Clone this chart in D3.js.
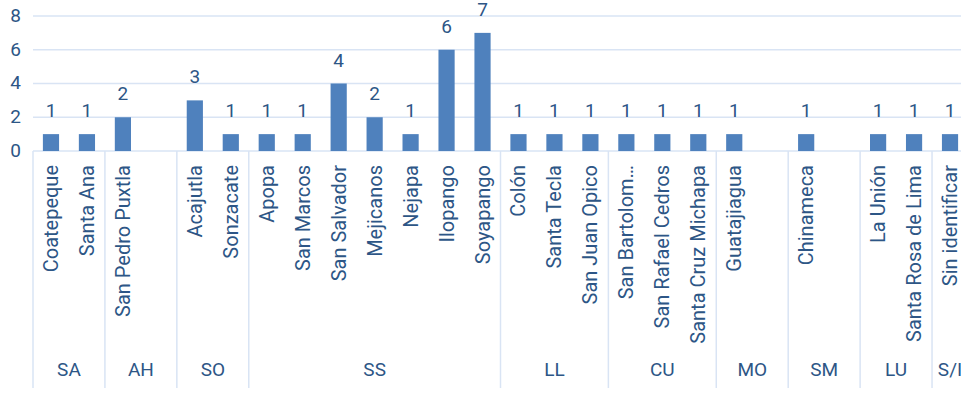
<!DOCTYPE html>
<html><head><meta charset="utf-8">
<script src="https://cdn.jsdelivr.net/npm/d3@7"></script>
<style>html,body{margin:0;padding:0;background:#fff;overflow:hidden}svg{display:block}</style>
</head><body>
<script>
const categories = ["Coatepeque","Santa Ana","San Pedro Puxtla","","Acajutla","Sonzacate","Apopa","San Marcos","San Salvador","Mejicanos","Nejapa","Ilopango","Soyapango","Colón","Santa Tecla","San Juan Opico","San Bartolom…","San Rafael Cedros","Santa Cruz Michapa","Guatajiagua","","Chinameca","","La Unión","Santa Rosa de Lima","Sin identificar"];
const groupOf = ["SA","SA","AH","AH","SO","SO","SS","SS","SS","SS","SS","SS","SS","LL","LL","LL","CU","CU","CU","MO","MO","SM","SM","LU","LU","S/I"];
const values = [1,1,2,null,3,1,1,1,4,2,1,6,7,1,1,1,1,1,1,1,null,1,null,1,1,1];
const groups = ["SA","AH","SO","SS","LL","CU","MO","SM","LU","S/I"];
const yTicks = [0,2,4,6,8];

const W = 961, H = 400;
const left = 33, right = 968, y0 = 151, yTop = 16, yBottom = 388;
const textColor = "#2d5686", gridColor = "#d9e4f4", barColor = "#4f81bd";
const font = "Roboto, 'Noto Sans', sans-serif";

const svg = d3.select("body").append("svg").attr("width", W).attr("height", H);
const idx = d3.range(categories.length);
const x = d3.scaleBand().domain(idx).range([left, right]).paddingInner(0).paddingOuter(0);
const y = d3.scaleLinear().domain([0, 8]).range([y0, yTop]);

// gridlines
svg.append("g").selectAll("line").data(yTicks.filter(d => d > 0)).join("line")
  .attr("x1", left).attr("x2", W).attr("y1", d => y(d)).attr("y2", d => y(d))
  .attr("stroke", gridColor).attr("stroke-width", 1.5);

// y axis labels
const yAxis = d3.axisLeft(y).tickValues(yTicks).tickSize(0).tickPadding(0);
const ya = svg.append("g").attr("transform", `translate(21,0)`).call(yAxis);
ya.select(".domain").remove();
ya.selectAll("text").attr("font-family", font).attr("font-size", 19).attr("fill", textColor).attr("dy", "0.28em");

// x axis line
svg.append("line").attr("x1", left).attr("x2", W).attr("y1", y0).attr("y2", y0)
  .attr("stroke", gridColor).attr("stroke-width", 1.5);

// group boundaries
const groupSpans = groups.map(g => {
  const ii = idx.filter(i => groupOf[i] === g);
  return {g, x0: x(ii[0]), x1: x(ii[ii.length - 1]) + x.bandwidth()};
});
const bounds = [left].concat(groupSpans.map(s => s.x1));
svg.append("g").selectAll("line").data(bounds).join("line")
  .attr("x1", d => d).attr("x2", d => d).attr("y1", y0).attr("y2", yBottom)
  .attr("stroke", gridColor).attr("stroke-width", 1.5);

// bars
const bw = x.bandwidth() * 0.45;
const withVal = idx.filter(i => values[i] != null);
svg.append("g").selectAll("rect").data(withVal).join("rect")
  .attr("x", i => x(i) + x.bandwidth() / 2 - bw / 2)
  .attr("y", i => y(values[i]))
  .attr("width", bw)
  .attr("height", i => y(0) - y(values[i]))
  .attr("fill", barColor);

// data labels
svg.append("g").selectAll("text").data(withVal).join("text")
  .attr("x", i => x(i) + x.bandwidth() / 2)
  .attr("y", i => y(values[i]) - 17)
  .attr("text-anchor", "middle")
  .attr("font-family", font).attr("font-size", 19).attr("fill", textColor)
  .text(i => values[i]);

// category labels
svg.append("g").selectAll("text").data(idx.filter(i => categories[i] !== "")).join("text")
  .attr("transform", i => `translate(${x(i) + x.bandwidth() / 2},165) rotate(-90)`)
  .attr("text-anchor", "end").attr("dy", "0.35em")
  .attr("font-family", font).attr("font-size", 20).attr("fill", textColor)
  .text(i => categories[i]);

// group labels
svg.append("g").selectAll("text").data(groupSpans).join("text")
  .attr("x", d => (d.x0 + d.x1) / 2).attr("y", 376)
  .attr("text-anchor", "middle")
  .attr("font-family", font).attr("font-size", 19).attr("fill", textColor)
  .text(d => d.g);
</script>
</body></html>
